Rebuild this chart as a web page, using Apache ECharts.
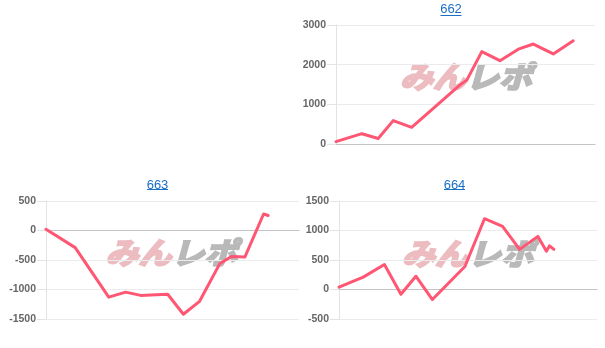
<!DOCTYPE html>
<html>
<head>
<meta charset="utf-8">
<script src="https://cdn.jsdelivr.net/npm/echarts@6/dist/echarts.min.js"></script>
<style>
html,body{margin:0;padding:0;background:#fff;}
#chart{width:605px;height:348px;}
</style>
</head>
<body>
<div id="chart"></div>
<script>
// Machine numbers (chart titles)
const titles = ['662', '663', '664'];

// Games played (x) and coin difference (y) per machine
const games662 = [0, 1000, 1630, 2210, 2920, 4790, 5050, 5630, 6330, 7040, 7620, 8390, 9160];
const diff662  = [60, 260, 140, 590, 420, 1490, 1610, 2330, 2100, 2390, 2520, 2270, 2600];

const games663 = [0, 1155, 2480, 3150, 3745, 4345, 4810, 5430, 6070, 6865, 7330, 7860, 8600, 8780];
const diff663  = [20, -290, -1130, -1045, -1100, -1090, -1080, -1420, -1200, -565, -440, -450, 280, 255];

const games664 = [0, 940, 1760, 2400, 2980, 3620, 4880, 5640, 6340, 7000, 7710, 8040, 8160, 8330];
const diff664  = [40, 210, 424, -80, 225, -170, 390, 1200, 1070, 680, 900, 650, 740, 680];

// Y axis ranges
const yMin = [0, -1500, -500];
const yMax = [3000, 500, 1500];
const yStep = [1000, 500, 500];
const xMaxGames = 10000;

const grids = [
  {left: 336, top: 25, width: 259, height: 119},
  {left: 46, top: 201, width: 253, height: 118},
  {left: 339, top: 201, width: 258, height: 118}
];

function pairs(xs, ys) { return xs.map((x, i) => [x, ys[i]]); }
const seriesData = [pairs(games662, diff662), pairs(games663, diff663), pairs(games664, diff664)];

const lineColor = '#ff5673';
const font = '"Liberation Sans", Arial, sans-serif';

const titleCenters = [451, 157.5, 454.5];
const titleTops = [3, 178.5, 178.5];

const option = {
  backgroundColor: '#fff',
  animation: false,
  title: titles.map((t, i) => ({
    text: t, left: titleCenters[i], top: titleTops[i], textAlign: 'center', padding: 0,
    textStyle: {fontSize: 13, fontWeight: 'normal', color: '#1a6fc7', fontFamily: font}
  })),
  grid: grids,
  xAxis: grids.map((g, i) => ({
    type: 'value', gridIndex: i, min: 0, max: xMaxGames,
    axisLine: {show: true, onZero: true, lineStyle: {color: '#c4c4c4', width: 1}},
    axisTick: {show: false}, axisLabel: {show: false}, splitLine: {show: false}
  })),
  yAxis: grids.map((g, i) => ({
    type: 'value', gridIndex: i, min: yMin[i], max: yMax[i], interval: yStep[i],
    axisLine: {show: true, lineStyle: {color: '#e3e3e3'}},
    axisTick: {show: true, length: 9, lineStyle: {color: '#e3e3e3'}},
    axisLabel: {fontSize: 10.5, color: '#666', fontWeight: 'bold', margin: 10, fontFamily: font,
      formatter: v => String(v)},
    splitLine: {show: true, lineStyle: {color: '#ebebeb'}}
  })),
  series: seriesData.map((d, i) => ({
    type: 'line', xAxisIndex: i, yAxisIndex: i, data: d,
    showSymbol: false, symbol: 'none', z: 5,
    lineStyle: {color: lineColor, width: 3, cap: 'round', join: 'round'}
  })),
  graphic: []
};

// underline the titles (link style)
const ulY = [15.5, 189.5, 189.5];
titles.forEach((t, i) => {
  option.graphic.push({
    type: 'line', silent: true,
    shape: {x1: titleCenters[i] - 10.5, y1: ulY[i], x2: titleCenters[i] + 10.5, y2: ulY[i]},
    style: {stroke: '#1a6fc7', lineWidth: 1}
  });
});

// watermark logo text behind each chart
const wm = [[466, 77], [171.5, 253], [468, 254]];
const pink = '#ecbcc0';
const grey = '#b9b9b9';
wm.forEach(([cx, cy]) => {
  option.graphic.push({
    type: 'text', silent: true, z: 0, x: cx, y: cy, scaleX: 1.1,
    style: {text: 'みん', x: 0, y: 0, align: 'right', verticalAlign: 'middle',
      fontSize: 30, fontStyle: 'italic', fontWeight: 'bold', fontFamily: 'Noto Sans CJK JP',
      fill: pink, stroke: pink, lineWidth: 2.2}
  });
  option.graphic.push({
    type: 'text', silent: true, z: 0, x: cx, y: cy, scaleX: 1.1,
    style: {text: 'レポ', x: 0, y: 0, align: 'left', verticalAlign: 'middle',
      fontSize: 30, fontStyle: 'italic', fontWeight: 'bold', fontFamily: 'Noto Sans CJK JP',
      fill: grey, stroke: grey, lineWidth: 2.2}
  });
});

const chart = echarts.init(document.getElementById('chart'), null, {renderer: 'canvas'});
chart.setOption(option);
</script>
</body>
</html>
